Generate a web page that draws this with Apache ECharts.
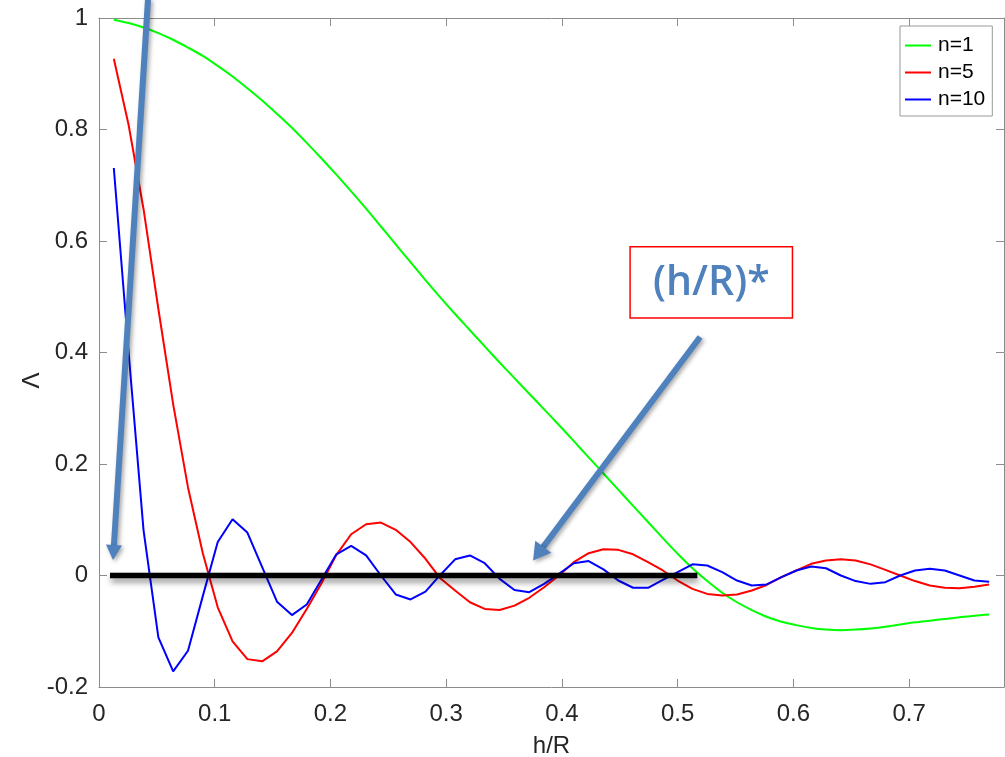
<!DOCTYPE html>
<html>
<head>
<meta charset="utf-8">
<script src="https://cdn.jsdelivr.net/npm/echarts@6/dist/echarts.min.js"></script>
<style>
html,body{margin:0;padding:0;background:#fff;}
#chart{width:1005px;height:757px;}
</style>
</head>
<body>
<div id="chart"></div>
<script>
// h/R sample positions
var hR = [0.0128,0.0256,0.0385,0.0513,0.0641,0.0769,0.0897,0.1026,0.1154,0.1282,
          0.1410,0.1538,0.1667,0.1795,0.1923,0.2051,0.2179,0.2308,0.2436,0.2564,
          0.2692,0.2821,0.2949,0.3077,0.3205,0.3333,0.3462,0.3590,0.3718,0.3846,
          0.3974,0.4103,0.4231,0.4359,0.4487,0.4615,0.4744,0.4872,0.5000,0.5128,
          0.5256,0.5385,0.5513,0.5641,0.5769,0.5897,0.6026,0.6154,0.6282,0.6410,
          0.6538,0.6667,0.6795,0.6923,0.7051,0.7179,0.7308,0.7436,0.7564,0.7692];
// Lambda, n=1
var n1 = [0.997,0.991,0.983,0.973,0.961,0.947,0.932,0.914,0.895,0.874,
          0.852,0.828,0.803,0.776,0.748,0.719,0.689,0.658,0.626,0.594,
          0.562,0.530,0.499,0.469,0.440,0.411,0.382,0.354,0.326,0.298,
          0.270,0.241,0.212,0.183,0.154,0.125,0.096,0.067,0.039,0.013,
          -0.010,-0.031,-0.048,-0.062,-0.074,-0.083,-0.089,-0.094,-0.097,-0.098,
          -0.097,-0.095,-0.092,-0.088,-0.084,-0.081,-0.078,-0.075,-0.072,-0.070];
// Lambda, n=5
var n5 = [0.927,0.808,0.657,0.478,0.307,0.158,0.040,-0.057,-0.118,-0.150,
          -0.154,-0.136,-0.103,-0.060,-0.014,0.037,0.074,0.092,0.095,0.082,
          0.060,0.030,-0.005,-0.027,-0.048,-0.060,-0.062,-0.054,-0.040,-0.021,
          0.000,0.024,0.040,0.047,0.046,0.038,0.024,0.009,-0.009,-0.024,
          -0.033,-0.036,-0.034,-0.027,-0.017,-0.003,0.009,0.021,0.027,0.029,
          0.027,0.020,0.010,0.000,-0.010,-0.018,-0.022,-0.023,-0.020,-0.016];
// Lambda, n=10
var n10 = [0.731,0.400,0.081,-0.111,-0.172,-0.135,-0.037,0.060,0.101,0.077,
           0.015,-0.047,-0.071,-0.052,-0.007,0.038,0.053,0.036,0.000,-0.034,
           -0.043,-0.029,0.001,0.029,0.036,0.022,-0.006,-0.026,-0.030,-0.015,
           0.003,0.022,0.026,0.011,-0.009,-0.022,-0.022,-0.008,0.006,0.020,
           0.018,0.006,-0.009,-0.018,-0.016,-0.003,0.009,0.016,0.013,0.000,
           -0.010,-0.015,-0.012,0.000,0.009,0.012,0.009,0.000,-0.009,-0.011];
var seriesNames = ['n=1','n=5','n=10'];
var seriesColors = ['#00ff00','#ff0000','#0000ff'];
var xTicks = ['0','0.1','0.2','0.3','0.4','0.5','0.6','0.7'];
var yTitle = 'Λ';

// annotation anchors (data coordinates)
var yTitleAt = [-0.058, 0.35];
var zeroBar = [[0.0095,0],[0.517,0]];
var arrow1 = [[0.0424,1.035],[0.0121,0.028]];
var arrow2 = [[0.5194,0.4278],[0.3751,0.027]];
var labelBox = [[0.4589,0.5895],[0.5992,0.4619]];
var labelText = '(h/R)*';

function pairs(v){ return hR.map(function(x,i){ return [x, v[i]]; }); }

var chart = echarts.init(document.getElementById('chart'), null, {renderer:'canvas'});
var axisGrey = '#8c8c8c';
var labelCol = '#262626';
var font = 'Liberation Sans, Arial, Helvetica, sans-serif';

function xAx(pos, showLabel){
  return {
    type:'value', position:pos, min:0, max:0.782, interval:0.1,
    axisLine:{show:true, onZero:false, lineStyle:{color:axisGrey, width:1}},
    axisTick:{show:true, inside:true, length:8, lineStyle:{color:axisGrey}},
    splitLine:{show:false},
    axisLabel:{show:showLabel, fontSize:24, color:labelCol, fontFamily:font, margin:15,
      formatter:function(v){ var k=Math.round(v*10); return Math.abs(v*10-k)<1e-6 ? xTicks[k] : ''; }},
    name: showLabel ? 'h/R' : '', nameLocation:'middle', nameGap:47,
    nameTextStyle:{fontSize:24, color:labelCol, fontFamily:font}
  };
}
function yAx(pos, showLabel){
  return {
    type:'value', position:pos, min:-0.2, max:1, interval:0.2,
    axisLine:{show:true, onZero:false, lineStyle:{color:axisGrey, width:1}},
    axisTick:{show:true, inside:true, length:8, lineStyle:{color:axisGrey}},
    splitLine:{show:false},
    axisLabel:{show:showLabel, fontSize:24, color:labelCol, fontFamily:font, margin:11}
  };
}

var vals = [n1,n5,n10];
var series = seriesNames.map(function(nm,k){
  return {
    name:nm, type:'line', xAxisIndex:0, yAxisIndex:0, data:pairs(vals[k]),
    showSymbol:false, symbol:'none', smooth:(k===0 ? 0.3 : false), animation:false,
    lineStyle:{color:seriesColors[k], width:2}, itemStyle:{color:seriesColors[k]}, z:2
  };
});

chart.setOption({
  animation:false,
  backgroundColor:'#fff',
  grid:{left:99, right:1, top:18, bottom:70, containLabel:false, outerBoundsMode:'none'},
  xAxis:[xAx('bottom',true), xAx('top',false)],
  yAxis:[yAx('left',true), yAx('right',false)],
  legend:{
    data:seriesNames, orient:'vertical', left:900, top:26,
    padding:[9,7,6,5], itemGap:6, itemWidth:26, itemHeight:2, icon:'rect',
    backgroundColor:'#fff', borderColor:'#999', borderWidth:1,
    textStyle:{fontSize:21, color:'#000', fontFamily:font, padding:[0,0,0,2]}
  },
  series:series
});

function px(p){ return chart.convertToPixel({xAxisIndex:0, yAxisIndex:0}, p); }
function arrowGraphics(a, headLen, headHalf, width, shadow){
  var s = px(a[0]), t = px(a[1]);
  var dx = t[0]-s[0], dy = t[1]-s[1], L = Math.sqrt(dx*dx+dy*dy);
  var ux = dx/L, uy = dy/L, nx = -uy, ny = ux;
  var bx = t[0]-ux*headLen, by = t[1]-uy*headLen;
  var col = '#4f81bd';
  var sh = shadow ? {shadowBlur:4, shadowColor:'rgba(0,0,0,0.35)', shadowOffsetX:2, shadowOffsetY:2} : {};
  return [
    {type:'line', z:100, shape:{x1:s[0], y1:s[1], x2:bx+ux*1, y2:by+uy*1},
     style:Object.assign({stroke:col, lineWidth:width}, sh)},
    {type:'polygon', z:100, shape:{points:[[t[0],t[1]],[bx+nx*headHalf, by+ny*headHalf],[bx-nx*headHalf, by-ny*headHalf]]},
     style:Object.assign({fill:col}, sh)}
  ];
}

var zb0 = px(zeroBar[0]), zb1 = px(zeroBar[1]);
var b0 = px(labelBox[0]), b1 = px(labelBox[1]);
var tc = px([(labelBox[0][0]+labelBox[1][0])/2, (labelBox[0][1]+labelBox[1][1])/2]);
var yt = px(yTitleAt);
var graphics = [
  {type:'text', z:50, x:yt[0], y:yt[1], rotation:Math.PI/2,
   style:{text:yTitle, fill:labelCol, font:'24px ' + font, align:'center', verticalAlign:'middle'}},
  {type:'line', z:90, shape:{x1:zb0[0], y1:zb0[1], x2:zb1[0], y2:zb1[1]},
   style:{stroke:'#000', lineWidth:5.5, shadowBlur:6, shadowColor:'rgba(0,0,0,0.45)', shadowOffsetY:4, shadowOffsetX:1}},
  {type:'rect', z:100, shape:{x:b0[0], y:b0[1], width:b1[0]-b0[0], height:b1[1]-b0[1]},
   style:{fill:'#fff', stroke:'#ff0000', lineWidth:1.5}},
  {type:'text', z:101, x:tc[0], y:tc[1]+1,
   style:{text:labelText, fill:'#4f81bd', font:'600 41px "Open Sans", "Noto Sans", sans-serif', align:'center', verticalAlign:'middle'}}
];
graphics = graphics.concat(arrowGraphics(arrow1, 15, 8, 6, true));
graphics = graphics.concat(arrowGraphics(arrow2, 17, 10, 6, true));
chart.setOption({graphic:graphics});
</script>
</body>
</html>
